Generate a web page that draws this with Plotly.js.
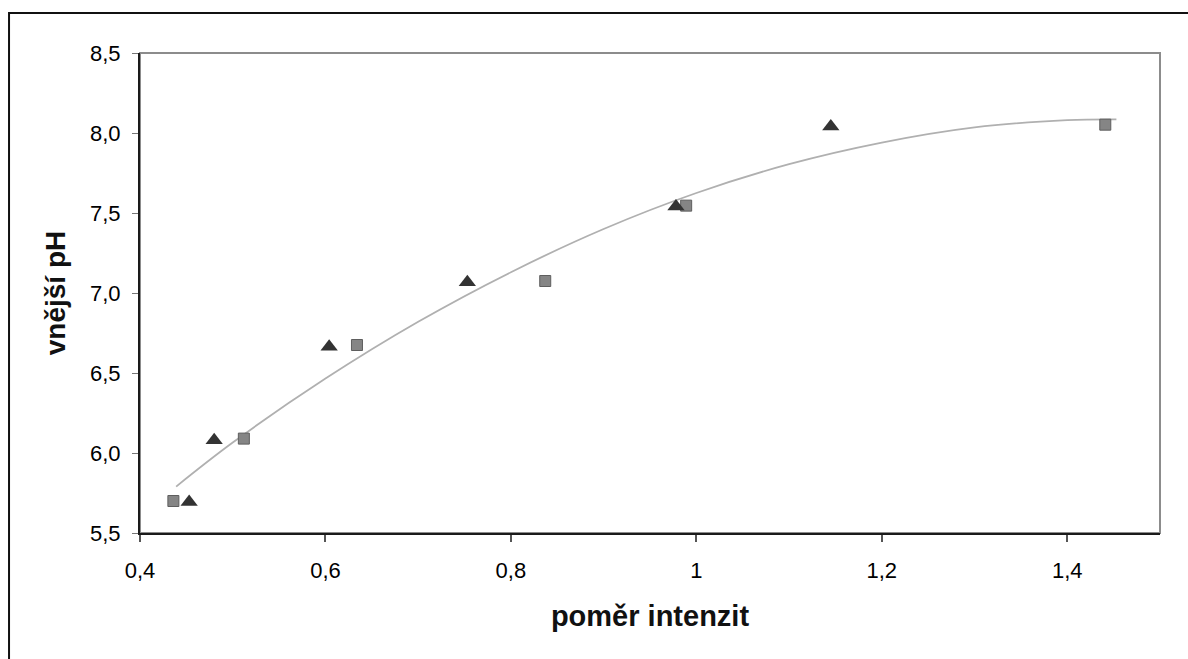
<!DOCTYPE html>
<html>
<head>
<meta charset="utf-8">
<script src="https://cdn.plot.ly/plotly-3.0.1.min.js"></script>
<style>
  html, body { margin: 0; padding: 0; background: #ffffff; }
  #chart { width: 1188px; height: 659px; }
</style>
</head>
<body>
<div id="chart"></div>
<script>
// Series 1: squares
const squareX = [0.436, 0.512, 0.634, 0.837, 0.989, 1.441];
const squareY = [5.70, 6.09, 6.675, 7.075, 7.546, 8.052];
// Series 2: triangles
const triangleX = [0.453, 0.480, 0.604, 0.753, 0.978, 1.145];
const triangleY = [5.694, 6.08, 6.664, 7.067, 7.54, 8.04];
// Trend line
const trendX = [0.439, 0.5, 0.6, 0.7, 0.8, 0.9, 1.0, 1.1, 1.2, 1.3, 1.4, 1.453];
const trendY = [5.79, 6.065, 6.465, 6.82, 7.13, 7.40, 7.625, 7.805, 7.94, 8.035, 8.08, 8.085];
// Ticks
const xTicks = [0.4, 0.6, 0.8, 1.0, 1.2, 1.4];
const yTicks = [5.5, 6.0, 6.5, 7.0, 7.5, 8.0, 8.5];

const FONT = '"Liberation Sans", Arial, sans-serif';

const traces = [
  {
    x: trendX, y: trendY, type: 'scatter', mode: 'lines',
    line: { color: '#b0b0b0', width: 1.8, shape: 'spline', smoothing: 1 },
    hoverinfo: 'skip', showlegend: false
  },
  {
    x: squareX, y: squareY, type: 'scatter', mode: 'markers',
    marker: { symbol: 'square', size: 11, color: '#858585', line: { color: '#5e5e5e', width: 1 } },
    showlegend: false
  },
  {
    x: triangleX, y: triangleY, type: 'scatter', mode: 'markers',
    marker: { symbol: 'triangle-up', size: 15, color: '#333333', line: { width: 0 } },
    showlegend: false
  }
];

const layout = {
  width: 1188, height: 659,
  margin: { l: 140, r: 28, t: 53, b: 126 },
  paper_bgcolor: '#ffffff', plot_bgcolor: '#ffffff',
  separators: ',.',
  font: { family: FONT, color: '#000000' },
  showlegend: false,
  xaxis: {
    range: [0.4, 1.5],
    tickvals: xTicks,
    showgrid: false, zeroline: false,
    showline: true, linecolor: '#1a1a1a', linewidth: 2,
    ticks: 'outside', ticklen: 7, tickwidth: 2, tickcolor: '#555555',
    ticklabelstandoff: 10,
    tickfont: { family: FONT, size: 22, color: '#000000' },
    title: { text: 'poměr intenzit', font: { family: FONT, size: 29, color: '#111111', weight: 'bold' }, standoff: 23 },
    automargin: false
  },
  yaxis: {
    range: [5.5, 8.5],
    tickvals: yTicks,
    tickformat: '.1f',
    showgrid: false, zeroline: false,
    showline: true, linecolor: '#1a1a1a', linewidth: 2,
    ticks: 'outside', ticklen: 6, tickwidth: 1, tickcolor: '#777777',
    ticklabelstandoff: 7,
    tickfont: { family: FONT, size: 22, color: '#000000' },
    title: { text: 'vnější pH', font: { family: FONT, size: 28, color: '#111111', weight: 'bold' }, standoff: 16 },
    automargin: false
  },
  shapes: [
    { type: 'rect', xref: 'paper', yref: 'paper', x0: 0, x1: 1, y0: 0, y1: 1,
      line: { color: '#8c8c8c', width: 2 }, layer: 'below' },
    { type: 'rect', xref: 'paper', yref: 'paper', x0: -0.1284, x1: 1.2, y0: -0.4, y1: 1.0833,
      line: { color: '#111111', width: 2 }, layer: 'below' }
  ]
};

Plotly.newPlot('chart', traces, layout, { displayModeBar: false, staticPlot: true });
</script>
</body>
</html>
